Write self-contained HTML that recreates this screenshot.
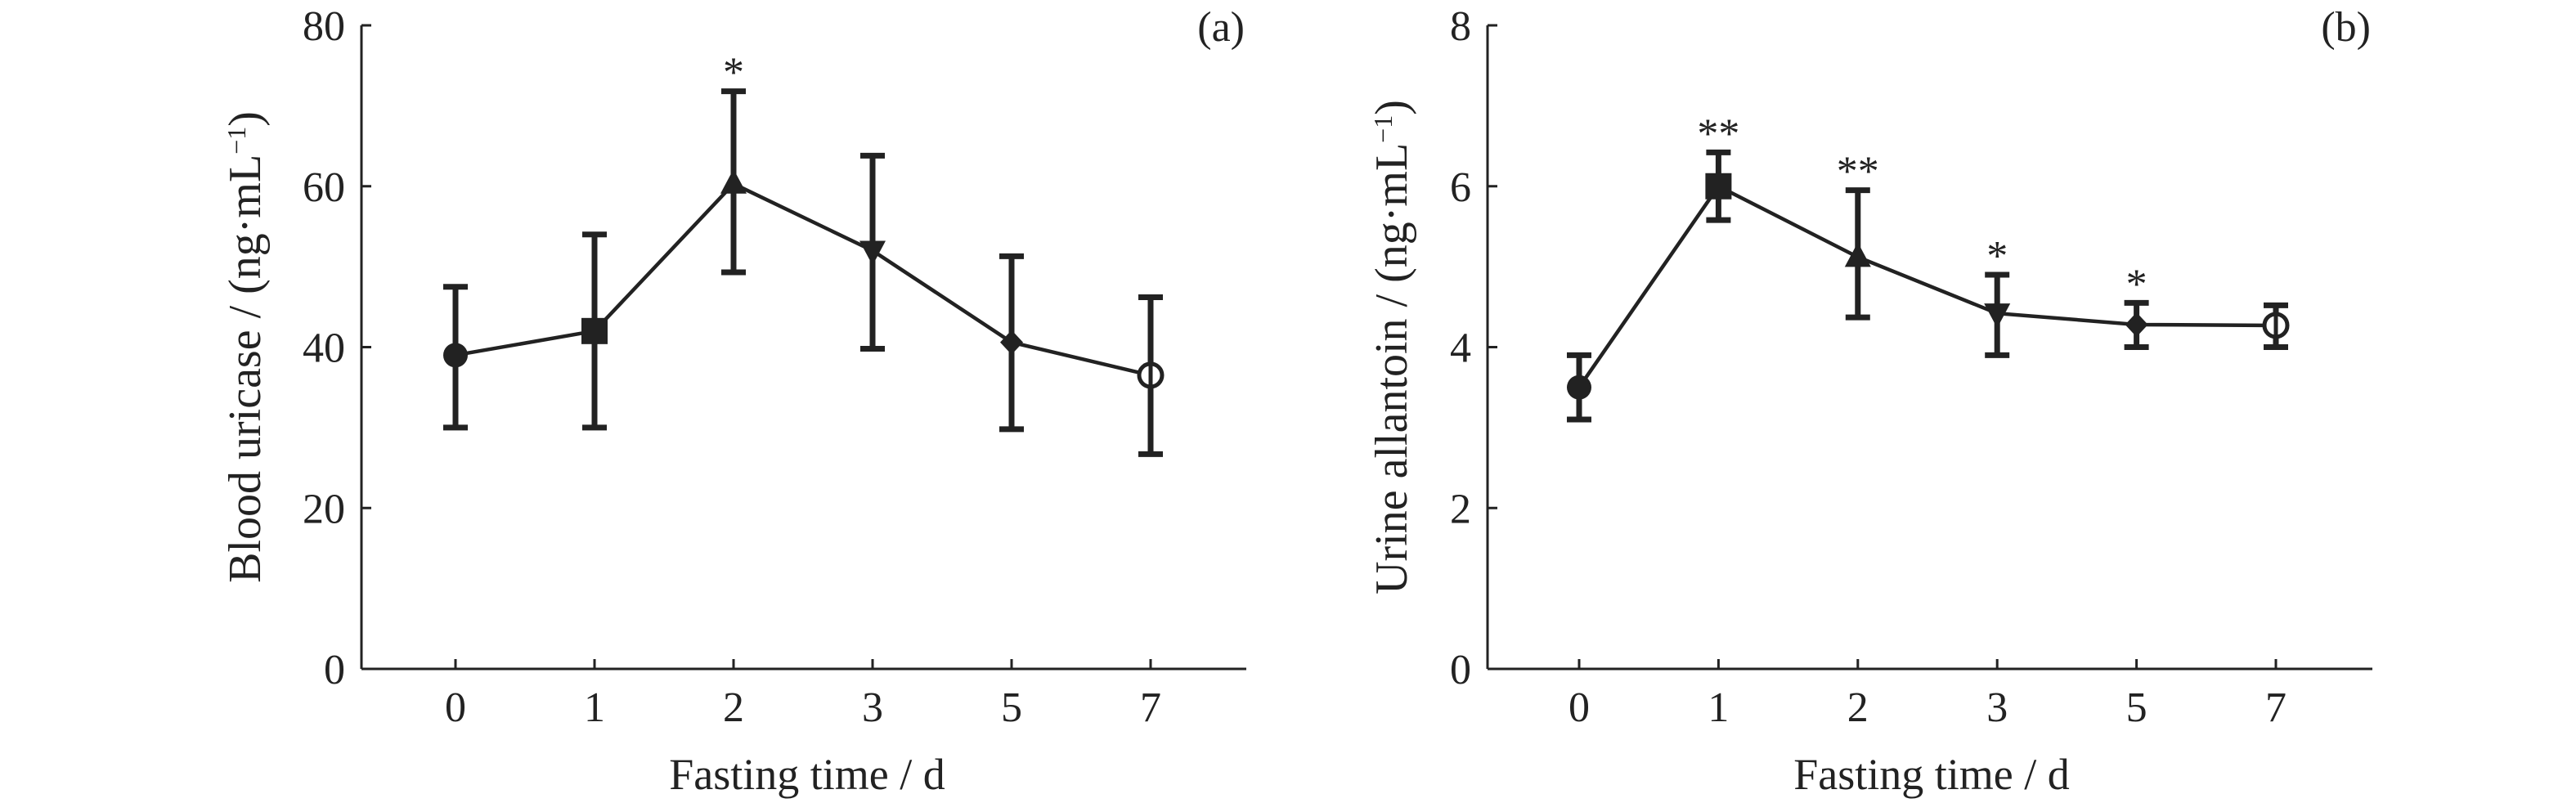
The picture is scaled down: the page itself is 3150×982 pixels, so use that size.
<!DOCTYPE html>
<html><head><meta charset="utf-8"><style>
html,body{margin:0;padding:0;background:#fff;}
svg{display:block;}
text{font-family:"Liberation Serif",serif;fill:#222;}
</style></head><body>
<svg id="chart" width="3150" height="982" viewBox="0 0 3150 982" xmlns="http://www.w3.org/2000/svg"></svg>
<script>
const categories = ["0","1","2","3","5","7"];
const seriesA = [39, 42, 60.3, 52, 40.6, 36.5];
const errLowA = [30, 30, 49.3, 39.8, 29.8, 26.7];
const errHighA = [47.5, 54, 71.8, 63.8, 51.3, 46.2];
const starsA = ["", "", "*", "", "", ""];
const ticksA = [0, 20, 40, 60, 80];
const seriesB = [3.5, 6.0, 5.12, 4.42, 4.28, 4.27];
const errLowB = [3.1, 5.58, 4.37, 3.9, 4.0, 4.0];
const errHighB = [3.9, 6.42, 5.95, 4.9, 4.55, 4.52];
const starsB = ["", "**", "**", "*", "*", ""];
const ticksB = [0, 2, 4, 6, 8];
const markers = ["circle", "square", "triangle", "tridown", "diamond", "open"];

const svg = document.getElementById('chart');
const NS = 'http://www.w3.org/2000/svg';
function mk(tag, attrs, parent) {
  const e = document.createElementNS(NS, tag);
  for (const k in attrs) e.setAttribute(k, attrs[k]);
  parent.appendChild(e);
  return e;
}

function panel(cfg) {
  const g = mk('g', {}, svg);
  
  
  const x0 = cfg.axisX, x1 = cfg.axisRight, yTop = 31, yBot = 818;
  const yS = v => yBot - (v - cfg.yMin) / (cfg.yMax - cfg.yMin) * (yBot - yTop);
  const xS = i => cfg.firstTick + i * cfg.step;
  const stroke = '#222';
  const yAxis = mk('line', {x1: x0, y1: yTop, x2: x0, y2: yBot, stroke, 'stroke-width': 3}, g);
  
  
  const xAxis = mk('line', {x1: x0, y1: yBot, x2: x1, y2: yBot, stroke, 'stroke-width': 3}, g);
  
  
  cfg.ticks.forEach(t => {
    const y = yS(t);
    mk('line', {x1: x0, y1: y, x2: x0 + 12, y2: y, stroke, 'stroke-width': 3}, g);
    const tx = mk('text', {x: x0 - 20, y: y + 18, 'font-size': 52, 'text-anchor': 'end'}, g);
    tx.textContent = t;
    
    
  });
  categories.forEach((c, i) => {
    const x = xS(i);
    mk('line', {x1: x, y1: yBot, x2: x, y2: yBot - 12, stroke, 'stroke-width': 3}, g);
    const tx = mk('text', {x: x, y: 882, 'font-size': 52, 'text-anchor': 'middle'}, g);
    tx.textContent = c;
    
    
  });
  const pts = cfg.values.map((v, i) => xS(i) + ',' + yS(v)).join(' ');
  const pl = mk('polyline', {points: pts, fill: 'none', stroke, 'stroke-width': 4.5}, g);
  
  
  cfg.values.forEach((v, i) => {
    const x = xS(i), y = yS(v), yl = yS(cfg.lo[i]), yh = yS(cfg.hi[i]);
    const eb = mk('path', {d: `M${x},${yl}V${yh}M${x-15},${yl}H${x+15}M${x-15},${yh}H${x+15}`, stroke, 'stroke-width': 7, fill: 'none'}, g);
    
    
    let m;
    switch (markers[i]) {
      case 'circle': m = mk('circle', {cx: x, cy: y, r: 15, fill: stroke}, g); break;
      case 'square': m = mk('rect', {x: x - 16, y: y - 16, width: 32, height: 32, fill: stroke}, g); break;
      case 'triangle': m = mk('polygon', {points: `${x},${y-18} ${x-16},${y+12} ${x+16},${y+12}`, fill: stroke}, g); break;
      case 'tridown': m = mk('polygon', {points: `${x},${y+18} ${x-16},${y-12} ${x+16},${y-12}`, fill: stroke}, g); break;
      case 'diamond': m = mk('polygon', {points: `${x},${y-15} ${x+14},${y} ${x},${y+15} ${x-14},${y}`, fill: stroke}, g); break;
      default: m = mk('circle', {cx: x, cy: y, r: 14, fill: '#fff', stroke, 'stroke-width': 5}, g);
        mk('line', {x1: x, y1: y - 14, x2: x, y2: y + 14, stroke, 'stroke-width': 5}, g);
    }
    
    
    if (cfg.stars[i]) {
      const st = mk('text', {x: x, y: yh - 6, 'font-size': 52, 'text-anchor': 'middle'}, g);
      st.textContent = cfg.stars[i];
      
      
    }
  });
  const yt = mk('text', {x: 0, y: 0, 'font-size': 56, 'text-anchor': 'middle', transform: `translate(${cfg.ylabX},${(yTop + yBot) / 2}) rotate(-90)`}, g);
  yt.innerHTML = cfg.ylab + ' / (ng·mL<tspan dy="-18" font-size="32">−1</tspan><tspan dy="18">)</tspan>';
  
  
  const xt = mk('text', {x: (cfg.firstTick + cfg.firstTick + 5 * cfg.step) / 2 + 5, y: 965, 'font-size': 54, 'text-anchor': 'middle'}, g);
  xt.textContent = 'Fasting time / d';
  
  
  const pt = mk('text', {x: x1 - 2, y: 50, 'font-size': 52, 'text-anchor': 'end'}, g);
  pt.textContent = cfg.tag;
  
  
}

panel({name: 'panel-a', axisX: 442, axisRight: 1524, firstTick: 557, step: 170, yMin: 0, yMax: 80, ticks: ticksA,
  values: seriesA, lo: errLowA, hi: errHighA, stars: starsA, ylab: 'Blood uricase', ylabX: 318, tag: '(a)'});
panel({name: 'panel-b', axisX: 1819, axisRight: 2901, firstTick: 1931, step: 170.4, yMin: 0, yMax: 8, ticks: ticksB,
  values: seriesB, lo: errLowB, hi: errHighB, stars: starsB, ylab: 'Urine allantoin', ylabX: 1720, tag: '(b)'});
</script>
</body></html>
